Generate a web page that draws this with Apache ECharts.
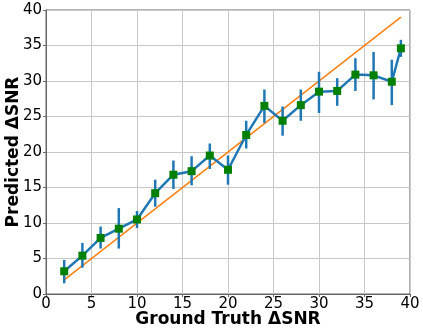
<!DOCTYPE html>
<html>
<head>
<meta charset="utf-8">
<script src="https://cdn.jsdelivr.net/npm/echarts@6/dist/echarts.min.js"></script>
<style>
  html, body { margin: 0; padding: 0; background: #fff; }
  #chart { width: 423px; height: 333px; }
</style>
</head>
<body>
<div id="chart"></div>
<script>
// ground truth values (x) and predicted means
let groundTruth = [2, 4, 6, 8, 10, 12, 14, 16, 18, 20, 22, 24, 26, 28, 30, 32, 34, 36, 38, 39]
let predicted = [3.2, 5.4, 7.9, 9.2, 10.5, 14.2, 16.8, 17.3, 19.5, 17.5, 22.4, 26.5, 24.4, 26.6, 28.5, 28.6, 30.9, 30.8, 29.9, 34.6]
// error bar ends
let errTop = [4.8, 7.2, 9.5, 12.1, 11.7, 16.1, 18.8, 19.4, 21.2, 19.5, 24.4, 28.8, 26.4, 28.8, 31.3, 30.4, 33.2, 34.1, 33.0, 35.8]
let errBottom = [1.5, 3.7, 6.4, 6.4, 9.3, 12.3, 14.8, 15.3, 17.6, 15.4, 20.5, 24.1, 22.3, 24.4, 25.5, 26.5, 28.6, 27.4, 26.6, 33.4]
// ideal line y = x
let idealX = [2, 39]

let chart = echarts.init(document.getElementById('chart'), null, { renderer: 'canvas' })

let font = 'DejaVu Sans'

let option = {
    animation: false,
    grid: {
        left: 46, right: 13, top: 10, bottom: 39,
        outerBoundsMode: 'none',
        containLabel: false,
        show: true, borderColor: '#666', borderWidth: 1
    },
    xAxis: {
        type: 'value', min: 0, max: 40, interval: 5,
        name: 'Ground Truth ΔSNR', nameLocation: 'middle', nameGap: 17,
        nameMoveOverlap: false,
        nameTextStyle: { fontFamily: font, fontWeight: 'bold', fontSize: 17, color: '#000' },
        axisLine: { show: true, lineStyle: { color: '#666' } },
        axisTick: { show: true, length: 3, lineStyle: { color: '#666' } },
        axisLabel: { fontFamily: font, fontSize: 15, color: '#000', margin: 3 },
        splitLine: { show: true, lineStyle: { color: '#c8c8c8', width: 1 } }
    },
    yAxis: {
        type: 'value', min: 0, max: 40, interval: 5,
        name: 'Predicted ΔSNR', nameLocation: 'middle', nameGap: 24,
        nameMoveOverlap: false,
        nameTextStyle: { fontFamily: font, fontWeight: 'bold', fontSize: 17, color: '#000' },
        axisLine: { show: true, lineStyle: { color: '#666' } },
        axisTick: { show: true, length: 3, lineStyle: { color: '#666' } },
        axisLabel: { fontFamily: font, fontSize: 15, color: '#000', margin: 4 },
        splitLine: { show: true, lineStyle: { color: '#c8c8c8', width: 1 } }
    },
    series: [
        {
            type: 'line',
            data: idealX.map((v) => [v, v]),
            showSymbol: false,
            lineStyle: { color: '#ff7f0e', width: 1.5 },
            z: 2
        },
        {
            type: 'custom',
            data: groundTruth.map((x, i) => [x, errBottom[i], errTop[i]]),
            renderItem: function (params, api) {
                let p0 = api.coord([api.value(0), api.value(1)])
                let p1 = api.coord([api.value(0), api.value(2)])
                return {
                    type: 'line',
                    shape: { x1: p0[0], y1: p0[1], x2: p1[0], y2: p1[1] },
                    style: { stroke: '#1f77b4', lineWidth: 2.5 }
                }
            },
            z: 3
        },
        {
            type: 'line',
            data: groundTruth.map((x, i) => [x, predicted[i]]),
            symbol: 'rect',
            symbolSize: 8,
            itemStyle: { color: '#008000' },
            lineStyle: { color: '#1f77b4', width: 2.5 },
            z: 4
        }
    ]
}

chart.setOption(option)
</script>
</body>
</html>
